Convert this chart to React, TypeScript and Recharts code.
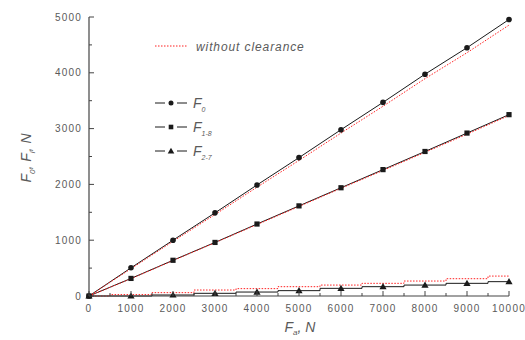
import React from 'react';
import { LineChart, Line, XAxis, YAxis } from 'recharts';

const forceValues = [0, 1000, 2000, 3000, 4000, 5000, 6000, 7000, 8000, 9000, 10000];
const f0 = [0, 505, 1000, 1490, 1990, 2480, 2980, 3470, 3975, 4450, 4955];
const f0NoClearance = [0, 490, 980, 1460, 1950, 2430, 2920, 3400, 3895, 4360, 4855];
const f18 = [0, 315, 640, 960, 1290, 1615, 1940, 2265, 2590, 2920, 3250];
const f18NoClearance = [0, 310, 635, 955, 1280, 1605, 1930, 2250, 2575, 2900, 3235];
const f27 = [0, 0, 18, 48, 71, 96, 137, 167, 196, 227, 257];
const f27NoClearance = [0, 25, 60, 107, 132, 167, 196, 227, 268, 310, 357];

const xTicks = [0, 500, 1000, 1500, 2000, 2500, 3000, 3500, 4000, 4500, 5000, 5500, 6000, 6500, 7000, 7500, 8000, 8500, 9000, 9500, 10000];
const yTicks = [0, 500, 1000, 1500, 2000, 2500, 3000, 3500, 4000, 4500, 5000];

const data = forceValues.map((x, i) => ({
  x,
  f0: f0[i],
  f0n: f0NoClearance[i],
  f18: f18[i],
  f18n: f18NoClearance[i],
  f27: f27[i],
  f27n: f27NoClearance[i],
}));

const FONT = '"Liberation Sans", Arial, sans-serif';
const TEXT = '#5a5a5a';
const AXIS = '#444';
const RED = '#ff2020';
const BLACK = '#1a1a1a';

const XTick = (props: any) => {
  const { x, y, payload } = props;
  const v = payload.value;
  const major = v % 1000 === 0;
  return (
    <g>
      <line x1={x} x2={x} y1={y} y2={y - (major ? 5 : 3)} stroke={AXIS} strokeWidth={1} />
      {major && (
        <text x={x} y={y + 16} textAnchor="middle" fontFamily={FONT} fontSize={10} letterSpacing={1.2} fill={TEXT}>
          {v}
        </text>
      )}
    </g>
  );
};

const YTick = (props: any) => {
  const { x, y, payload } = props;
  const v = payload.value;
  const major = v % 1000 === 0;
  return (
    <g>
      <line x1={x} x2={x + (major ? 5 : 3)} y1={y} y2={y} stroke={AXIS} strokeWidth={1} />
      {major && (
        <text x={x - 7} y={y + 3.5} textAnchor="end" fontFamily={FONT} fontSize={10} letterSpacing={1.2} fill={TEXT}>
          {v}
        </text>
      )}
    </g>
  );
};

const CircleDot = (props: any) => {
  const { cx, cy, index } = props;
  return <circle key={`c${index}`} cx={cx} cy={cy} r={2.8} fill={BLACK} />;
};
const SquareDot = (props: any) => {
  const { cx, cy, index } = props;
  return <rect key={`s${index}`} x={cx - 2.6} y={cy - 2.6} width={5.2} height={5.2} fill={BLACK} />;
};
const TriDot = (props: any) => {
  const { cx, cy, index } = props;
  return <path key={`t${index}`} d={`M${cx},${cy - 3.6} L${cx + 3.6},${cy + 2.6} L${cx - 3.6},${cy + 2.6} Z`} fill={BLACK} />;
};

const legendItems = [
  { sub: '0', marker: 'circle', y: 103 },
  { sub: '1-8', marker: 'square', y: 127 },
  { sub: '2-7', marker: 'triangle', y: 151 },
];

const LegendMarker = ({ kind, cx, cy }: { kind: string; cx: number; cy: number }) => {
  if (kind === 'circle') return <circle cx={cx} cy={cy} r={2.5} fill={BLACK} />;
  if (kind === 'square') return <rect x={cx - 2.3} y={cy - 2.3} width={4.6} height={4.6} fill={BLACK} />;
  return <path d={`M${cx},${cy - 3.3} L${cx + 3.3},${cy + 2.4} L${cx - 3.3},${cy + 2.4} Z`} fill={BLACK} />;
};

export default function App() {
  return (
    <div style={{ position: 'absolute', left: 0, top: 0, width: 525, height: 340, background: '#fff' }}>
      <LineChart width={525} height={340} data={data} margin={{ top: 17, right: 16, bottom: 14, left: 29 }}>
        <XAxis
          dataKey="x"
          type="number"
          domain={[0, 10000]}
          ticks={xTicks}
          interval={0}
          height={30}
          tickSize={0}
          tickMargin={0}
          tickLine={false}
          axisLine={{ stroke: AXIS, strokeWidth: 1.2 }}
          tick={<XTick />}
          label={{
            position: 'bottom',
            content: () => (
              <text x={300} y={332} textAnchor="middle" fontFamily={FONT} fontSize={14} fontStyle="italic" fill={TEXT}>
                <tspan>F</tspan>
                <tspan fontSize={8} dy={3}>a</tspan>
                <tspan dy={-3}>, N</tspan>
              </text>
            ),
          }}
        />
        <YAxis
          type="number"
          domain={[0, 5000]}
          ticks={yTicks}
          interval={0}
          width={60}
          tickSize={0}
          tickMargin={0}
          tickLine={false}
          axisLine={{ stroke: AXIS, strokeWidth: 1.2 }}
          tick={<YTick />}
          label={{
            position: 'left',
            content: () => (
              <text
                x={31}
                y={158}
                transform="rotate(-90 31 158)"
                textAnchor="middle"
                fontFamily={FONT}
                fontSize={14}
                fontStyle="italic"
                fill={TEXT}
              >
                <tspan>F</tspan>
                <tspan fontSize={8} dy={4}>0</tspan>
                <tspan dy={-4}>, F</tspan>
                <tspan fontSize={8} dy={4}>i</tspan>
                <tspan dy={-4}>, N</tspan>
              </text>
            ),
          }}
        />
        <Line type="linear" dataKey="f0" stroke={BLACK} strokeWidth={1} dot={<CircleDot />} isAnimationActive={false} />
        <Line type="linear" dataKey="f18" stroke={BLACK} strokeWidth={1} dot={<SquareDot />} isAnimationActive={false} />
        <Line type="step" dataKey="f27" stroke={BLACK} strokeWidth={1} dot={<TriDot />} isAnimationActive={false} />
        <Line type="linear" dataKey="f0n" stroke={RED} strokeWidth={1} strokeDasharray="1.5 1.5" dot={false} isAnimationActive={false} />
        <Line type="linear" dataKey="f18n" stroke={RED} strokeWidth={1} strokeDasharray="1.5 1.5" dot={false} isAnimationActive={false} />
        <Line type="step" dataKey="f27n" stroke={RED} strokeWidth={1} strokeDasharray="1.5 1.5" dot={false} isAnimationActive={false} />
      </LineChart>
      <svg width={525} height={340} style={{ position: 'absolute', left: 0, top: 0, pointerEvents: 'none' }}>
        <line x1={155} x2={187} y1={46} y2={46} stroke={RED} strokeWidth={1} strokeDasharray="1.5 1.5" />
        <text x={196} y={51} fontFamily={FONT} fontSize={12} fontStyle="italic" letterSpacing={0.9} fill={TEXT}>
          without clearance
        </text>
        {legendItems.map((it) => (
          <g key={it.sub}>
            <line x1={155} x2={165} y1={it.y} y2={it.y} stroke={BLACK} strokeWidth={1} />
            <line x1={177} x2={187} y1={it.y} y2={it.y} stroke={BLACK} strokeWidth={1} />
            <LegendMarker kind={it.marker} cx={171} cy={it.y} />
            <text x={193} y={it.y + 5} fontFamily={FONT} fontSize={14} fontStyle="italic" fill={TEXT}>
              <tspan>F</tspan>
              <tspan fontSize={7} dy={4}>{it.sub}</tspan>
            </text>
          </g>
        ))}
      </svg>
    </div>
  );
}
